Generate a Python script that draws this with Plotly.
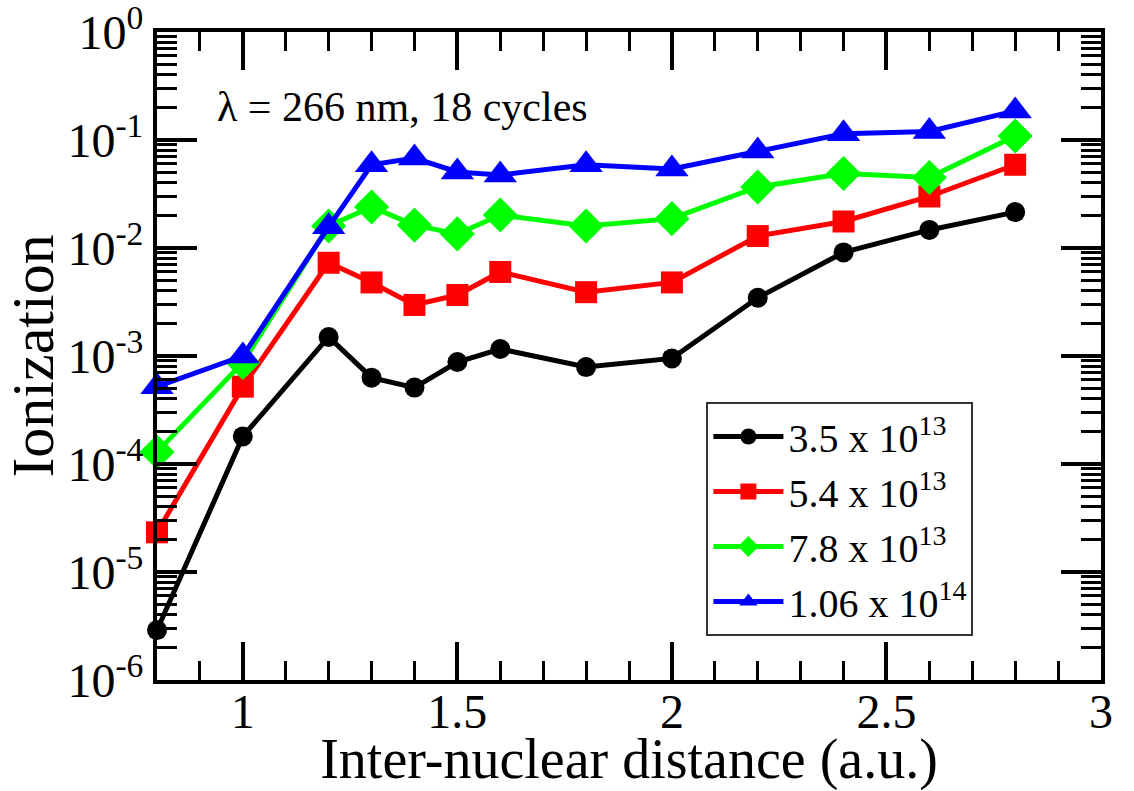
import plotly.graph_objects as go

distance = [0.8, 1.0, 1.2, 1.3, 1.4, 1.5, 1.6, 1.8, 2.0, 2.2, 2.4, 2.6, 2.8]

ion_35e13 = [2.9e-6, 1.8e-4, 1.5e-3, 6.3e-4, 5.1e-4, 8.8e-4, 1.16e-3, 7.9e-4, 9.5e-4, 3.46e-3, 9.1e-3, 1.47e-2, 2.15e-2]
ion_54e13 = [2.33e-5, 5.2e-4, 7.3e-3, 4.8e-3, 2.97e-3, 3.67e-3, 6.0e-3, 3.9e-3, 4.8e-3, 1.29e-2, 1.76e-2, 3.0e-2, 5.9e-2]
ion_78e13 = [1.29e-4, 8.7e-4, 1.6e-2, 2.4e-2, 1.63e-2, 1.35e-2, 2.02e-2, 1.6e-2, 1.87e-2, 3.67e-2, 4.9e-2, 4.5e-2, 0.109]
ion_106e14 = [5.2e-4, 1.0e-3, 1.57e-2, 5.9e-2, 6.8e-2, 5.06e-2, 4.74e-2, 5.9e-2, 5.4e-2, 7.9e-2, 0.114, 0.12, 0.186]

series_names = ["3.5 x 10<sup>13</sup>", "5.4 x 10<sup>13</sup>", "7.8 x 10<sup>13</sup>", "1.06 x 10<sup>14</sup>"]
series_values = [ion_35e13, ion_54e13, ion_78e13, ion_106e14]
series_colors = ["#000000", "#ff0000", "#00ff00", "#0000ff"]
series_symbols = ["circle", "square", "diamond", "triangle-up"]
series_sizes = [20, 22, 27, 29]

y_tickvals = [1e-6, 1e-5, 1e-4, 1e-3, 1e-2, 1e-1, 1e0]
y_ticktext = ["10<sup>-6</sup>", "10<sup>-5</sup>", "10<sup>-4</sup>", "10<sup>-3</sup>",
              "10<sup>-2</sup>", "10<sup>-1</sup>", "10<sup>0</sup>"]
y_minor = [k * 10.0 ** e for e in range(-6, 0) for k in range(2, 10)]

FONT = "Liberation Serif"

fig = go.Figure()
for name, vals, col, sym, sz in zip(series_names, series_values, series_colors, series_symbols, series_sizes):
    fig.add_trace(go.Scatter(
        x=distance, y=vals, name=name, mode="lines+markers",
        line=dict(color=col, width=5),
        marker=dict(symbol=sym, size=sz, color=col),
        cliponaxis=False,
    ))

fig.update_layout(
    width=1134, height=791,
    margin=dict(l=157, r=33, t=32, b=111, autoexpand=False),
    plot_bgcolor="white", paper_bgcolor="white",
    font=dict(family=FONT, color="black", size=48),
    showlegend=True,
    legend=dict(
        x=0.582, y=0.429, xanchor="left", yanchor="top",
        bordercolor="#333333", borderwidth=2, bgcolor="white",
        font=dict(family=FONT, size=40, color="black"),
        itemwidth=70, tracegroupgap=0,
    ),
    annotations=[dict(
        text="λ = 266 nm, 18 cycles", xref="paper", yref="paper",
        x=0.061, y=0.884, xanchor="left", yanchor="middle", showarrow=False,
        font=dict(family=FONT, size=42, color="black"),
    )],
)

fig.update_xaxes(
    range=[0.8, 3.0], tick0=0, dtick=0.5, automargin=False,
    showline=True, linecolor="black", linewidth=4, mirror="ticks",
    ticks="inside", ticklen=38, tickwidth=4, tickcolor="black",
    minor=dict(ticks="inside", ticklen=19, tickwidth=3, tickcolor="black", dtick=0.1, tick0=0),
    showgrid=False, zeroline=False,
    tickfont=dict(family=FONT, size=48), ticklabelstandoff=-14, ticklabeloverflow="allow",
    title=dict(text="Inter-nuclear distance (a.u.)", font=dict(family=FONT, size=56), standoff=6),
)

fig.update_yaxes(
    type="log", range=[-6, 0], automargin=False,
    tickmode="array", tickvals=y_tickvals, ticktext=y_ticktext,
    showline=True, linecolor="black", linewidth=4, mirror="ticks",
    ticks="inside", ticklen=40, tickwidth=4, tickcolor="black",
    minor=dict(ticks="inside", ticklen=20, tickwidth=3, tickcolor="black",
               tickmode="array", tickvals=y_minor),
    showgrid=False, zeroline=False,
    tickfont=dict(family=FONT, size=48), ticklabeloverflow="allow",
    title=dict(text="Ionization", font=dict(family=FONT, size=60), standoff=8),
)

fig.write_html("out.html")
